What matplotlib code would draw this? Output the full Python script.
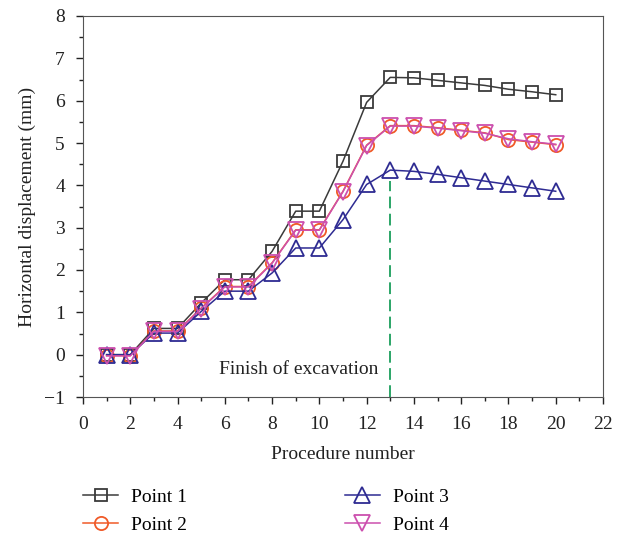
import matplotlib.pyplot as plt
from matplotlib.ticker import MultipleLocator

plt.rcParams['font.family'] = ['Liberation Serif', 'DejaVu Serif']

procedure = list(range(1, 21))
point1 = [0.0, 0.0, 0.62, 0.62, 1.22, 1.77, 1.77, 2.44, 3.39, 3.39,
          4.57, 5.96, 6.55, 6.54, 6.48, 6.42, 6.36, 6.27, 6.21, 6.14]
point2 = [-0.02, -0.02, 0.56, 0.56, 1.1, 1.61, 1.61, 2.17, 2.95, 2.95,
          3.86, 4.95, 5.41, 5.41, 5.36, 5.3, 5.24, 5.08, 5.02, 4.96]
point3 = [0.0, 0.0, 0.51, 0.51, 1.02, 1.5, 1.5, 1.93, 2.52, 2.52,
          3.19, 4.02, 4.36, 4.33, 4.26, 4.18, 4.1, 4.02, 3.94, 3.86]
point4 = [-0.03, -0.03, 0.55, 0.55, 1.09, 1.6, 1.6, 2.16, 2.94, 2.94,
          3.85, 4.94, 5.4, 5.4, 5.35, 5.29, 5.23, 5.1, 5.03, 4.97]

finish_step = 13
finish_top = 4.1

fig = plt.figure(figsize=(6.21, 5.35), dpi=100)
ax = fig.add_axes([83 / 621, 1 - 397 / 535, 520 / 621, 381 / 535])

series = [
    (point1, 's', '#3a3a3a', 8.5, 'Point 1'),
    (point2, 'o', '#f05a28', 9.5, 'Point 2'),
    (point3, '^', '#2e2b92', 11, 'Point 3'),
    (point4, 'v', '#cc4fae', 11, 'Point 4'),
]
for vals, mk, col, ms, lab in series:
    ax.plot(procedure, vals, color=col, marker=mk, markersize=ms,
            markerfacecolor='none', markeredgecolor=col, markeredgewidth=1.3,
            linewidth=1.1, label=lab)

# end of excavation marker
ax.plot([finish_step, finish_step], [-1, finish_top], color='#1a9e5c',
        linestyle=(0, (6.5, 3)), linewidth=1.3)
ax.text(12.5, -0.35, 'Finish of excavation', ha='right', va='center',
        fontsize=14, color='#222222')

ax.set_xlim(0, 22)
ax.set_ylim(-1, 8)
ax.xaxis.set_major_locator(MultipleLocator(2))
ax.xaxis.set_minor_locator(MultipleLocator(1))
ax.yaxis.set_major_locator(MultipleLocator(1))
ax.yaxis.set_minor_locator(MultipleLocator(0.5))
ax.tick_params(which='both', direction='out', top=False, right=False,
               labelsize=14, colors='#222222')
ax.tick_params(which='major', length=5, width=1)
ax.tick_params(which='minor', length=3, width=1)
ax.tick_params(axis='x', which='major', pad=8.5)
ax.tick_params(axis='y', which='major', pad=8)
for sp in ax.spines.values():
    sp.set_color('#555555')

ax.set_xlabel('Procedure number', fontsize=14, color='#222222', labelpad=9.5)
ax.set_ylabel('Horizontal displacement (mm)', fontsize=14, color='#222222',
              labelpad=6)

fig.legend(*ax.get_legend_handles_labels(), loc='upper left',
           bbox_to_anchor=(83 / 621, 1 - 488 / 535), ncol=2,
           frameon=False, fontsize=14, borderpad=0, borderaxespad=0,
           columnspacing=8.1, handlelength=1.8, handletextpad=0.67,
           labelspacing=0.55)

fig.savefig('out.png', dpi=100)
